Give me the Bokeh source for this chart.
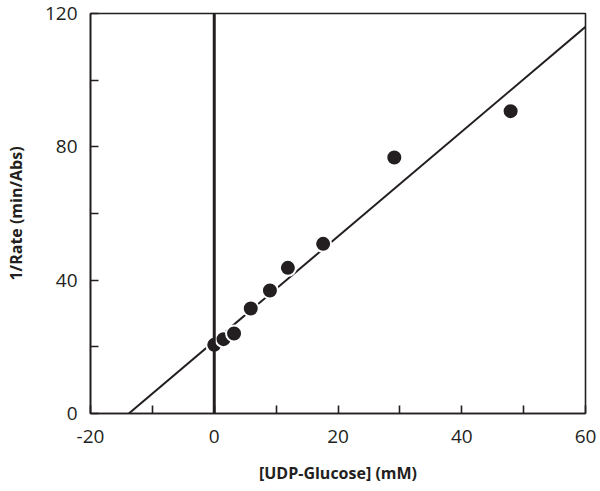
from bokeh.plotting import figure
from bokeh.models import FixedTicker, Span, Range1d, CustomJSTickFormatter
from bokeh.embed import file_html
from bokeh.resources import INLINE

# Data
udp_glucose = [0.0, 1.5, 3.2, 5.9, 9.0, 11.9, 17.6, 29.1, 47.9]
inv_rate = [20.6, 22.3, 24.0, 31.5, 36.9, 43.7, 50.9, 76.8, 90.7]
fit_x = [-13.8, 60.0]
fit_y = [0.0, 116.0]
x_major = [-20, 0, 20, 40, 60]
x_minor = [-10, 10, 30, 50]
y_major = [0, 40, 80, 120]
y_minor = [20, 60, 100]

INK = "#231f20"
FONT = "Open Sans"

p = figure(width=600, height=491, output_backend="svg", toolbar_location=None,
           x_range=Range1d(-20, 60), y_range=Range1d(0, 120),
           min_border_left=90, min_border_right=15, min_border_top=13, min_border_bottom=78)
p.grid.visible = False
p.background_fill_color = "white"
p.border_fill_color = "white"
p.outline_line_color = INK
p.outline_line_width = 1.6

p.xaxis.ticker = FixedTicker(ticks=x_major, minor_ticks=x_minor)
p.yaxis.ticker = FixedTicker(ticks=y_major, minor_ticks=y_minor)
for ax in (p.xaxis[0], p.yaxis[0]):
    ax.formatter = CustomJSTickFormatter(code="return String(tick);")
    ax.axis_line_color = INK
    ax.axis_line_width = 1.6
    ax.major_tick_line_color = INK
    ax.minor_tick_line_color = INK
    ax.major_tick_line_width = 1.6
    ax.minor_tick_line_width = 1.6
    ax.major_tick_in = 8
    ax.major_tick_out = 0
    ax.minor_tick_in = 8
    ax.minor_tick_out = 0
    ax.major_label_text_font = FONT
    ax.major_label_text_font_size = "19px"
    ax.major_label_text_color = INK
    ax.axis_label_text_font = FONT
    ax.axis_label_text_font_style = "bold"
    ax.axis_label_text_font_size = "16px"
    ax.axis_label_text_color = INK

p.xaxis.axis_label = "[UDP-Glucose] (mM)"
p.yaxis.axis_label = "1/Rate (min/Abs)"
p.xaxis.major_label_standoff = 16
p.yaxis.major_label_standoff = 13
p.xaxis.axis_label_standoff = 16
p.yaxis.axis_label_standoff = 15

p.add_layout(Span(location=0, dimension="height", line_color=INK, line_width=3))
p.line(fit_x, fit_y, line_color=INK, line_width=2)
p.scatter(udp_glucose, inv_rate, size=16, fill_color=INK, line_color="white", line_width=2)

open("out.html", "w").write(file_html(p, INLINE))
